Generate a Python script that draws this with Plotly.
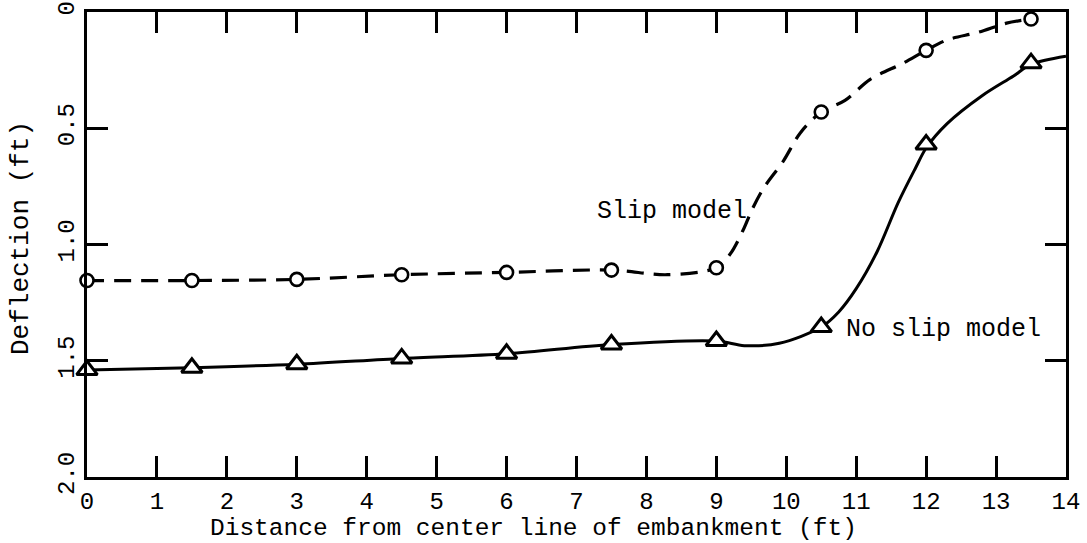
import plotly.graph_objects as go

# Measured deflections at each station (ft)
station_ft = [0, 1.5, 3, 4.5, 6, 7.5, 9, 10.5, 12, 13.5]
slip_deflection = [1.155, 1.155, 1.15, 1.13, 1.12, 1.11, 1.10, 0.43, 0.165, 0.03]
noslip_deflection = [1.54, 1.53, 1.515, 1.49, 1.47, 1.43, 1.415, 1.355, 0.57, 0.22]

# Hand-faired curves through the measured points
slip_curve_x = [0, 1.5, 3, 4.5, 6, 7.5, 8.3, 9, 9.2, 9.38, 9.51, 9.67, 9.96,
                10.2, 10.5, 10.84, 11.2, 11.67, 12, 12.3, 12.75, 13.15, 13.5]
slip_curve_y = [1.155, 1.155, 1.15, 1.13, 1.12, 1.11, 1.13, 1.10, 1.04, 0.94,
                0.85, 0.76, 0.64, 0.52, 0.43, 0.38, 0.29, 0.22, 0.165, 0.12,
                0.087, 0.048, 0.03]

noslip_curve_x = [0, 1.5, 3, 4.5, 6, 7.5, 9, 9.4, 9.9, 10.5, 10.75, 11.0,
                  11.3, 11.6, 11.85, 12, 12.3, 12.8, 13.25, 13.5, 14.0]
noslip_curve_y = [1.54, 1.53, 1.515, 1.49, 1.47, 1.43, 1.415, 1.435, 1.425, 1.355,
                  1.29, 1.19, 1.03, 0.82, 0.67, 0.585, 0.48, 0.36, 0.275, 0.225, 0.19]

x_ticks = list(range(0, 15))
y_ticks = [0, 0.5, 1.0, 1.5, 2.0]
y_tick_text = ["0", "0.5", "1.0", "1.5", "2.0"]

FONT = "Liberation Mono, Courier New, monospace"

fig = go.Figure()

fig.add_trace(go.Scatter(
    x=slip_curve_x, y=slip_curve_y, mode="lines",
    line=dict(color="black", width=3.2, dash="17px,10px", shape="spline", smoothing=0.9),
    hoverinfo="skip", showlegend=False))

fig.add_trace(go.Scatter(
    x=noslip_curve_x, y=noslip_curve_y, mode="lines",
    line=dict(color="black", width=3, shape="spline", smoothing=0.9),
    hoverinfo="skip", showlegend=False))

fig.add_trace(go.Scatter(
    x=station_ft, y=slip_deflection, mode="markers", name="Slip model",
    marker=dict(symbol="circle", size=13, color="white",
                line=dict(color="black", width=2.6)),
    showlegend=False, cliponaxis=False))

fig.add_trace(go.Scatter(
    x=station_ft, y=noslip_deflection, mode="markers", name="No slip model",
    marker=dict(symbol="triangle-up", size=18, color="white",
                line=dict(color="black", width=3)),
    showlegend=False, cliponaxis=False))

axis_common = dict(
    showline=True, linecolor="black", linewidth=3, mirror="ticks",
    ticks="inside", ticklen=21, tickwidth=2.5, tickcolor="black",
    showgrid=False, zeroline=False, automargin=False,
    tickfont=dict(family=FONT, size=24, color="black"),
)

fig.update_xaxes(range=[0, 14], tickvals=x_ticks, **axis_common)
fig.update_yaxes(range=[2.0, 0], tickvals=y_ticks, ticktext=y_tick_text,
                 tickangle=-90, **axis_common)

fig.update_layout(
    width=1087, height=543,
    margin=dict(l=87, r=21, t=12, b=66),
    plot_bgcolor="white", paper_bgcolor="white",
    font=dict(family=FONT, size=24, color="black"),
    annotations=[
        dict(text="Distance from center line of embankment (ft)",
             xref="paper", yref="paper", x=(533 - 87) / 979, y=-(528 - 477) / 465,
             xanchor="center", yanchor="middle", showarrow=False,
             font=dict(family=FONT, size=24.5, color="black")),
        dict(text="Deflection (ft)", xref="paper", yref="paper",
             x=-(87 - 21) / 979, y=(477 - 238) / 465, textangle=-90,
             xanchor="center", yanchor="middle", showarrow=False,
             font=dict(family=FONT, size=26, color="black")),
        dict(text="Slip model", xref="x", yref="y", x=8.37, y=0.86,
             xanchor="center", yanchor="middle", showarrow=False,
             font=dict(family=FONT, size=25, color="black")),
        dict(text="No slip model", xref="x", yref="y", x=10.82, y=1.365,
             xanchor="left", yanchor="middle", showarrow=False,
             font=dict(family=FONT, size=25, color="black")),
    ],
)

fig.write_html("out.html")
